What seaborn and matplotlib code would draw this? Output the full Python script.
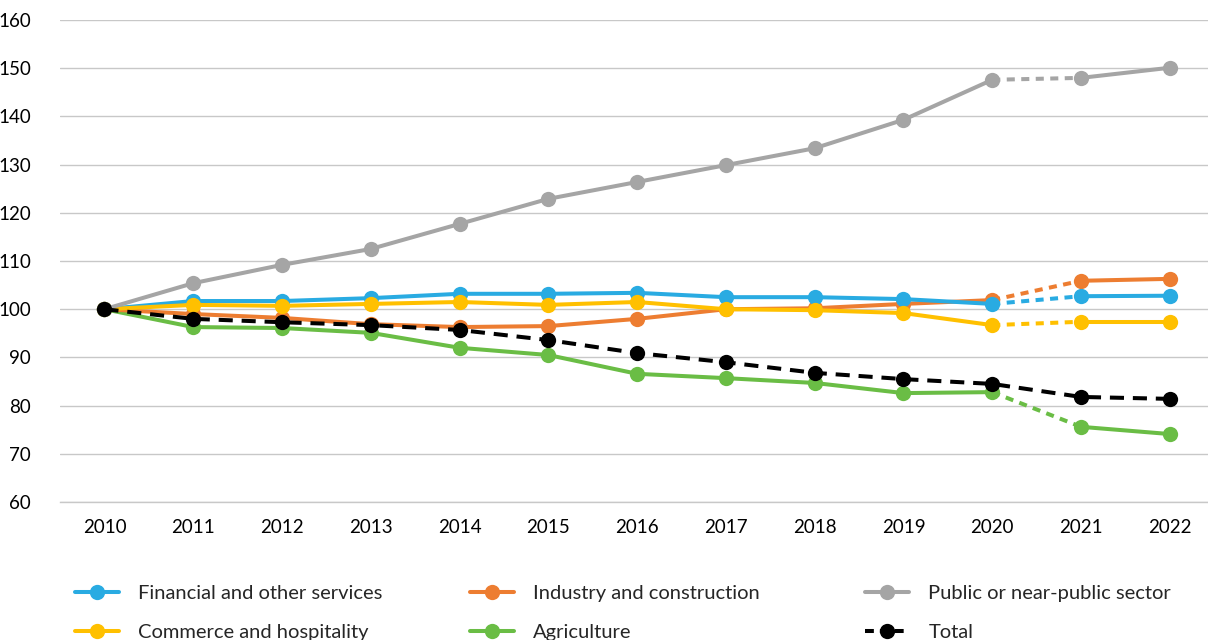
import pandas as pd
import seaborn as sns
from matplotlib import pyplot as plt
from matplotlib.lines import Line2D

years = list(range(2010, 2023))
financial = [100, 101.7, 101.7, 102.3, 103.2, 103.2, 103.4, 102.5, 102.5, 102.1, 101.1, 102.7, 102.8]
industry = [100, 99.0, 98.2, 96.9, 96.3, 96.5, 98.0, 100.0, 100.2, 101.1, 101.9, 105.9, 106.3]
public = [100, 105.4, 109.2, 112.5, 117.7, 122.9, 126.4, 129.9, 133.4, 139.3, 147.6, 148.0, 150.1]
commerce = [100, 100.9, 100.7, 101.1, 101.5, 100.9, 101.5, 100.0, 99.8, 99.2, 96.7, 97.4, 97.4]
agriculture = [100, 96.3, 96.1, 95.1, 92.0, 90.5, 86.6, 85.7, 84.7, 82.6, 82.8, 75.6, 74.1]
total = [100, 98.0, 97.3, 96.7, 95.7, 93.6, 90.9, 89.0, 86.8, 85.5, 84.5, 81.8, 81.4]

colors = {
    "Financial and other services": "#29ABE2",
    "Industry and construction": "#ED7D31",
    "Public or near-public sector": "#A5A5A5",
    "Commerce and hospitality": "#FFC000",
    "Agriculture": "#6ABD45",
    "Total": "#000000",
}

sns.set_style("white")
plt.rcParams['font.family'] = ['Lato', 'DejaVu Sans']

fig = plt.figure(figsize=(12.08, 6.4), dpi=100)
ax = fig.add_axes([0.0497, 0.2156, 0.9503, 0.7531])

lw = 2.9
ms = 11

# draw order: back to front
series = [
    ("Agriculture", agriculture),
    ("Industry and construction", industry),
    ("Financial and other services", financial),
    ("Commerce and hospitality", commerce),
    ("Public or near-public sector", public),
]

for name, vals in series:
    df = pd.DataFrame({"year": years, "value": vals})
    c = colors[name]
    part1 = df[df.year <= 2020]
    bridge = df[(df.year >= 2020) & (df.year <= 2021)]
    part2 = df[df.year >= 2021]
    sns.lineplot(data=part1, x="year", y="value", color=c, lw=lw, ax=ax,
                 marker="o", markersize=ms, markeredgewidth=0)
    sns.lineplot(data=bridge, x="year", y="value", color=c, lw=lw, ax=ax,
                 linestyle=(0, (2, 1.6)))
    sns.lineplot(data=part2, x="year", y="value", color=c, lw=lw, ax=ax,
                 marker="o", markersize=ms, markeredgewidth=0)

df_total = pd.DataFrame({"year": years, "value": total})
sns.lineplot(data=df_total, x="year", y="value", color="black", lw=lw, ax=ax,
             linestyle=(0, (3.5, 2.2)), marker="o", markersize=ms, markeredgewidth=0)

ax.set_xlim(2009.5, 2022.43)
ax.set_ylim(60, 160)
ax.set_yticks(range(60, 161, 10))
ax.set_xticks(years)
ax.set_xlabel("")
ax.set_ylabel("")
ax.tick_params(axis="both", labelsize=13.5, colors="#000000", length=0)
ax.tick_params(axis="x", pad=12)
ax.tick_params(axis="y", pad=21)
ax.grid(axis="y", color="#C8C8C8", lw=1)
ax.set_axisbelow(True)
for s in ["left", "right", "top"]:
    ax.spines[s].set_visible(False)
ax.spines["bottom"].set_color("#C8C8C8")
ax.spines["bottom"].set_linewidth(1)

def handle(name):
    if name == "Total":
        return Line2D([], [], color="black", lw=lw, linestyle=(0, (2.2, 1.5)),
                      marker="o", markersize=ms, markeredgewidth=0)
    return Line2D([], [], color=colors[name], lw=lw, marker="o",
                  markersize=ms, markeredgewidth=0)

columns = [
    (["Financial and other services", "Commerce and hospitality"], 0.062),
    (["Industry and construction", "Agriculture"], 0.389),
    (["Public or near-public sector", "Total"], 0.716),
]
for names, x0 in columns:
    fig.legend([handle(n) for n in names], names, loc="upper left",
               bbox_to_anchor=(x0, 1 - 585 / 640), bbox_transform=fig.transFigure,
               frameon=False, fontsize=14.5, handlelength=2.2, handletextpad=0.95,
               labelspacing=1.1, borderaxespad=0, borderpad=0)

fig.savefig("out.png", dpi=100)
